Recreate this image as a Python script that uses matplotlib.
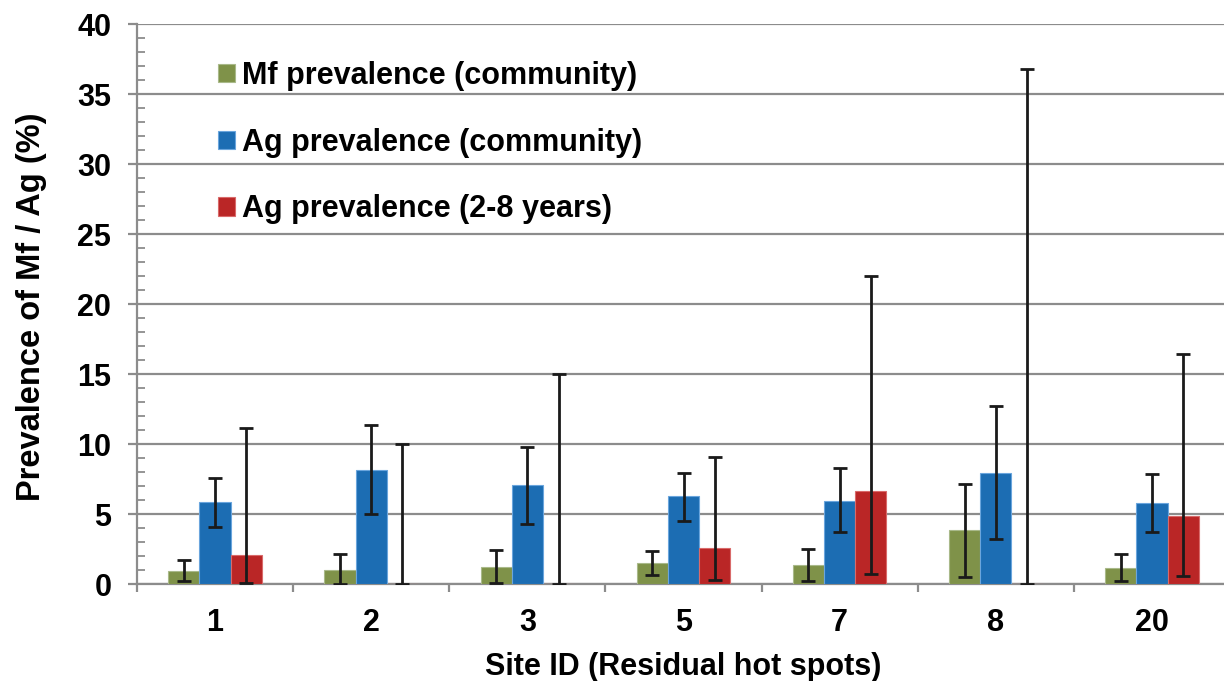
import numpy as np
import matplotlib.pyplot as plt
from matplotlib.ticker import MultipleLocator, FixedLocator

plt.rcParams['font.family'] = ['Liberation Sans', 'DejaVu Sans']
plt.rcParams['font.weight'] = 'bold'

sites = ["1", "2", "3", "5", "7", "8", "20"]

# prevalence values (%) with lower / upper bounds of the 95% CI
mf_comm = [0.92, 0.97, 1.22, 1.49, 1.36, 3.83, 1.17]
mf_comm_lo = [0.2, 0.0, 0.1, 0.62, 0.23, 0.51, 0.2]
mf_comm_hi = [1.69, 2.12, 2.41, 2.37, 2.52, 7.15, 2.11]

ag_comm = [5.83, 8.17, 7.05, 6.26, 5.95, 7.96, 5.78]
ag_comm_lo = [4.05, 5.01, 4.26, 4.5, 3.71, 3.23, 3.71]
ag_comm_hi = [7.6, 11.35, 9.79, 7.95, 8.27, 12.72, 7.86]

ag_child = [2.05, 0.0, 0.0, 2.57, 6.62, 0.0, 4.89]
ag_child_lo = [0.05, 0.0, 0.0, 0.29, 0.74, 0.0, 0.56]
ag_child_hi = [11.12, 10.0, 15.0, 9.1, 22.0, 36.8, 16.46]

labels = ["Mf prevalence (community)", "Ag prevalence (community)",
          "Ag prevalence (2-8 years)"]
colors = ["#7f9249", "#1c6db3", "#ba2626"]
edges = ["#a9b98a", "#6aa5dd", "#d96a6a"]

fig = plt.figure(figsize=(12.24, 6.81), dpi=100)
ax = fig.add_axes([137/1224, 1 - 584/681, 1093/1224, 560/681])

x = np.arange(len(sites))
w = 0.2
series = [(mf_comm, mf_comm_lo, mf_comm_hi),
          (ag_comm, ag_comm_lo, ag_comm_hi),
          (ag_child, ag_child_lo, ag_child_hi)]
handles = []
for i, (val, lo, hi) in enumerate(series):
    val = np.array(val)
    err = [val - np.array(lo), np.array(hi) - val]
    b = ax.bar(x + (i - 1) * w, val, w, color=colors[i], edgecolor=edges[i],
               linewidth=0.8, zorder=3, label=labels[i])
    ax.errorbar(x + (i - 1) * w, val, yerr=err, fmt='none', ecolor='#1a1a1a',
                elinewidth=2.0, capsize=4.8, capthick=2.0, zorder=4)
    handles.append(b)

ax.set_xlim(-0.5, 6.5)
ax.set_ylim(0, 40)
ax.yaxis.set_major_locator(MultipleLocator(5))
ax.yaxis.set_minor_locator(MultipleLocator(1))
ax.grid(axis='y', color='#8c8c8c', linewidth=1.6, zorder=0)

ax.set_xticks(x)
ax.set_xticklabels(sites)
ax.xaxis.set_minor_locator(FixedLocator(np.arange(-0.5, 7, 1)))
ax.tick_params(axis='x', which='major', length=0, pad=17, labelsize=22)
ax.tick_params(axis='x', which='minor', length=6, width=1.6, color='#8c8c8c',
               direction='out')
ax.tick_params(axis='y', which='major', length=6.5, width=1.6, color='#8c8c8c',
               direction='out', pad=12, labelsize=22)
ax.tick_params(axis='y', which='minor', length=6, width=1.3, color='#8c8c8c',
               direction='in')

for s in ['top', 'right']:
    ax.spines[s].set_visible(False)
for s in ['left', 'bottom']:
    ax.spines[s].set_color('#8c8c8c')
    ax.spines[s].set_linewidth(1.6)

ax.set_xlabel("Site ID (Residual hot spots)", fontsize=22, fontweight='bold')
ax.xaxis.set_label_coords(0.5, -0.122)
ax.set_ylabel("Prevalence of Mf / Ag (%)", fontsize=23.5, fontweight='bold')
ax.yaxis.set_label_coords(-0.082, 0.495)

ax.legend(handles=handles, loc='upper left',
          bbox_to_anchor=(218/1224, 1 - 61/681), bbox_transform=fig.transFigure,
          frameon=False, fontsize=22, handlelength=0.55, handleheight=0.55,
          handletextpad=0.25, labelspacing=1.2, borderpad=0, borderaxespad=0)

fig.savefig("out.png", dpi=100)
